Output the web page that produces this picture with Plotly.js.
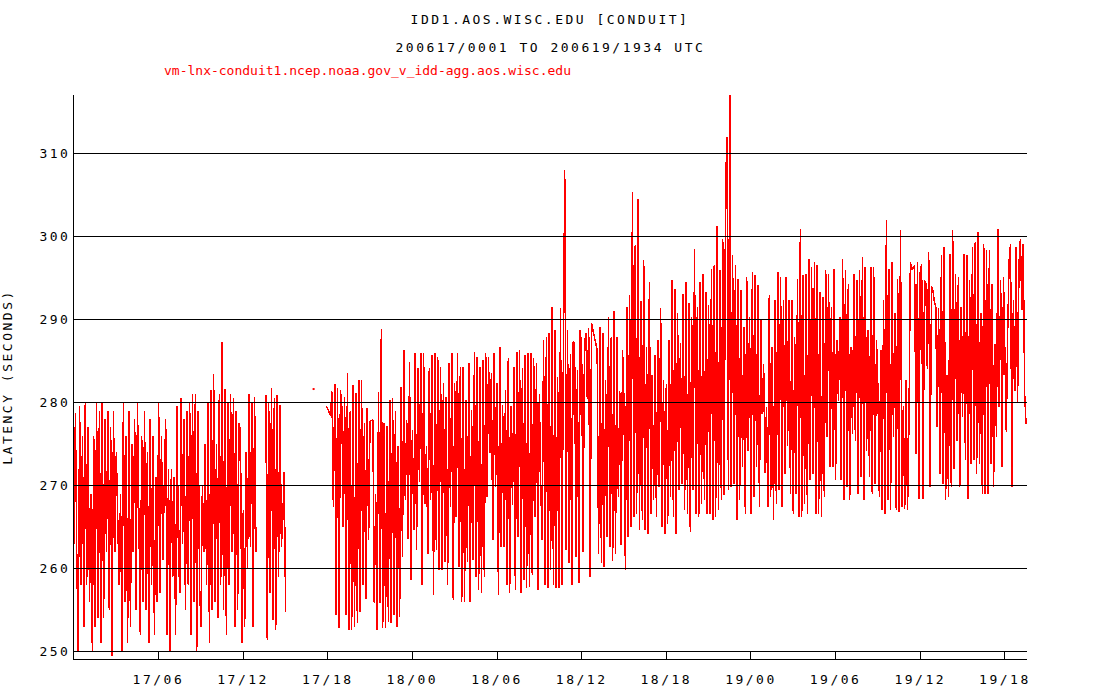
<!DOCTYPE html>
<html>
<head>
<meta charset="utf-8">
<script src="https://cdn.plot.ly/plotly-3.0.1.min.js"></script>
<style>
html, body { margin: 0; padding: 0; background: #fff; }
#chart { width: 1100px; height: 700px; }
.gtitle, .xtick text, .ytick text, .ytitle, g.annotation[data-index="0"] text { letter-spacing: 2.5px; }
.scatterlayer path.js-line { shape-rendering: crispEdges; }
.layer-above path, .xlines-above, .ylines-above { shape-rendering: crispEdges; }
</style>
</head>
<body>
<div id="chart"></div>
<script>
// ---- data ----
const titleLine1 = 'IDD1.AOS.WISC.EDU [CONDUIT]';
const titleLine2 = '200617/0001 TO 200619/1934 UTC';
const feedLabel = 'vm-lnx-conduit1.ncep.noaa.gov_v_idd-agg.aos.wisc.edu';
const yAxisTitle = 'LATENCY (SECONDS)';

const sampleStepMinutes = 6;
const seg1Start = '2006-06-17T00:01:00';
const seg2Start = '2006-06-17T17:54:00';
const axisStart = '2006-06-17 00:01';
const axisEnd = '2006-06-19 19:34';

// latency samples, first block (17/0001 - 17/1501)
const seg1Latency = [
  263, 278.7, 261, 250, 279.5, 258, 276, 253, 280, 258,
  277, 256, 269, 250, 276, 253, 280, 254, 279, 251,
  280, 254, 278, 262, 279, 255, 277, 249.5, 279, 262,
  274, 265, 258, 269, 250, 280, 256, 276, 251, 279,
  253, 275, 262, 278, 255, 280, 266, 252, 276, 256,
  279, 255, 274, 251, 278, 258, 276, 252, 271, 256,
  280, 257, 276, 261, 270, 278, 252, 272, 250, 272,
  259, 271, 252, 279.5, 262, 257, 280.5, 263, 278, 255,
  279, 258, 280, 252, 281, 256, 281, 250, 279, 258,
  253, 270, 262, 275, 258, 280, 251, 281.5, 255, 283.4,
  256, 275, 254, 281, 258, 287.3, 255, 281.6, 252, 280,
  258, 281, 262, 280.5, 253, 279, 255, 277.5, 276.5, 251,
  267, 253, 274, 260, 281, 262.6, 280, 253, 280.7, 262,
  null, null, null, null, null, null, 280.9, 251.4, 280, 257,
  281.7, 253.8, 280.5, 252.6, 280.9, 259, 279.7, 262.6, 266, 271.6,
  254.8
];

// isolated sample inside the gap
const loneTime = ['2006-06-17 17:00'];
const loneLatency = [281.6];

// latency samples, second block (17/1754 - 19/1930)
const seg2Latency = [
  279.6,
  279.2, 278.8, 278.4, 281.3, 267.4, 282.2, 254.4, 281.7, 252.8, 281.5,
  279.5, 265, 280.7, 254.4, 283.5, 252.6, 278.9, 252.6, 282.1, 253,
  281.1, 253.4, 282.7, 254.8, 282.7, 258, 277.5, 256.3, 279.3, 263.4,
  277.7, 277.8, 277.9, 255.8, 269, 252.6, 281.3, 255.8, 288.8, 252.8,
  277.5, 252.8, 277.2, 253.6, 280.3, 253.4, 280.5, 254.4, 278.9, 253,
  274.7, 254.2, 281.9, 261.4, 286.3, 268.2, 277.9, 263.6, 284.9, 258.6,
  276.7, 264.6, 285.9, 262.2, 284.1, 270.4, 285.9, 258, 285.9, 267.8,
  274.8, 261.8, 284.1, 268.2, 285.7, 256.8, 285.9, 262.2, 285.5, 259.8,
  284.3, 259.8, 282.3, 260.8, 280.7, 258, 284.7, 267.4, 285.9, 256.2,
  282.3, 266.2, 285.9, 260.2, 284.3, 256, 284.3, 256, 280.3, 260.8,
  284.7, 256, 279.1, 261, 286.1, 259, 285.5, 257.4, 284.3, 257,
  285.1, 259, 285.9, 268.6, 285.5, 273.9, 283.5, 263.4, 285.9, 269.8,
  282.3, 256.8, 286.7, 262.6, 279.7, 262.6, 281.5, 258, 285.3, 257,
  279.5, 267.6, 284.3, 257.4, 286.1, 263.8, 286.3, 257, 284.1, 258.6,
  285.7, 257.6, 285.9, 257.8, 285.9, 259.2, 285.3, 266.2, 284.7, 257.4,
  281, 270, 263.4, 287.5, 258, 287.9, 257.6, 288.3, 259.8, 291.5,
  258, 288.7, 257.6, 283.1, 257.6, 291.3, 258, 284.3, 308, 262.2,
  288.7, 260.6, 285.8, 258, 287.3, 287.1, 261.4, 283.9, 258.2, 288.7,
  286.3, 262, 287.1, 288.3, 280.4, 288.9, 259, 289.5, 288.7, 287.9,
  287, 286.3, 261.8, 289.1, 260.6, 288.3, 260.2, 282.7, 263.8, 290.3,
  262.6, 287.9, 260.9, 291, 261.8, 287.9, 268.6, 281.4, 262.8, 286.3,
  280.2, 259.8, 291.5, 263.8, 292.9, 265, 305.3, 266.2, 299, 266.6,
  304.5, 264.6, 292.2, 265.8, 297.1, 264.6, 286.7, 264.2, 294.5, 266.6,
  283.3, 268.2, 285.7, 266.2, 287.5, 269.8, 291.3, 265, 282.7, 264.2,
  282.2, 265.4, 287.5, 268.6, 294.7, 266.2, 293.7, 264.2, 290.7, 269.4,
  287.1, 270.2, 293.1, 267, 294.5, 266.6, 291.9, 264.4, 290.3, 269.4,
  298.4, 266.6, 291.5, 266.2, 294.5, 267.8, 295.5, 268.2, 293.3, 266.6,
  291.7, 266.6, 296.1, 265.8, 296.5, 266.2, 301.2, 267, 295.9, 268.2,
  299.7, 268.8, 306, 312, 269.4, 317.5, 269.8, 297.7, 270.2, 296.5,
  265.8, 294.9, 268.2, 293.5, 272.2, 289.1, 266.6, 295.1, 274.2, 290.3,
  266.6, 295.7, 268.6, 295.3, 272.2, 294.1, 267.4, 289.9, 278.6, 284.6,
  271.5, 279.4, 267.4, 292.9, 268.6, 286.7, 265.8, 292.3, 267.8, 295.7,
  269.4, 295.1, 267.4, 292.3, 271.4, 295.1, 274.8, 292.3, 269, 292.3,
  266.6, 287.9, 269, 294.9, 266.2, 300.9, 266.2, 295.3, 267.8, 295.5,
  266.6, 297.3, 270.6, 296.3, 271.4, 296.9, 266.6, 296.5, 266.6, 293.3,
  266.2, 292.7, 268.6, 295.9, 275.8, 295.5, 272.2, 291.5, 272.2, 296.1,
  270.6, 287.5, 280.2, 290.3, 270.6, 297.3, 268.2, 295.9, 269.8, 294.3,
  268.2, 286.7, 276.2, 295.5, 275.4, 294.7, 269, 295.9, 271, 297.5,
  268.2, 296.3, 274.2, 288.7, 271, 296.3, 269, 296.3, 270.2, 287.5,
  281.8, 268.6, 286.3, 267, 292.3, 266.6, 301.9, 268.2, 296.1, 267,
  296.9, 275.8, 290.7, 267, 294.9, 266.8, 300.7, 267.4, 279.5, 267.2,
  282.7, 267, 277.5, 296.9, 295.9, 296.3, 296.5, 273.8, 296.9, 268.4,
  295.7, 296.7, 268.4, 294.7, 294.3, 284, 298.1, 269.8, 294, 293.5,
  292.1, 291.5, 277, 291.4, 271.4, 297.7, 270.2, 298.7, 268.2, 283.3,
  268.6, 297.9, 269.8, 300.8, 272, 295.5, 275.4, 295.1, 269.8, 291.5,
  278.2, 297.9, 273, 297.7, 268.4, 294.7, 272.6, 298.7, 273, 299.3,
  271.4, 300.5, 272.6, 290.7, 269, 299.1, 269, 298.3, 269, 298.3,
  272.6, 294.3, 269.8, 287, 275.8, 300.9, 279.4, 294.7, 272.2, 295.1,
  285, 276.4, 288.7, 297, 299.1, 269.8, 292.3, 281.4, 298.7, 279.9,
  296.7, 299.7, 291.1, 299.1, 281, 277.4
];

const xTickTimes = ['2006-06-17 06:00', '2006-06-17 12:00', '2006-06-17 18:00',
  '2006-06-18 00:00', '2006-06-18 06:00', '2006-06-18 12:00', '2006-06-18 18:00',
  '2006-06-19 00:00', '2006-06-19 06:00', '2006-06-19 12:00', '2006-06-19 18:00'];
const xTickLabels = ['17/06', '17/12', '17/18', '18/00', '18/06', '18/12', '18/18',
  '19/00', '19/06', '19/12', '19/18'];
const yTickVals = [250, 260, 270, 280, 290, 300, 310];
const yRange = [249.1, 317.0];

// ---- build sample times from the fixed sampling cadence ----
function sampleTimes(start, n, stepMin) {
  const t0 = Date.parse(start + 'Z');
  const out = [];
  for (let i = 0; i < n; i++) {
    out.push(new Date(t0 + i * stepMin * 60000).toISOString().replace('T', ' ').slice(0, 19));
  }
  return out;
}
const seg1Times = sampleTimes(seg1Start, seg1Latency.length, sampleStepMinutes);
const seg2Times = sampleTimes(seg2Start, seg2Latency.length, sampleStepMinutes);

const RED = '#ff0000';
const traces = [
  { x: seg1Times, y: seg1Latency, type: 'scatter', mode: 'lines', connectgaps: false,
    line: { color: RED, width: 1.5 }, hoverinfo: 'x+y' },
  { x: loneTime, y: loneLatency, type: 'scatter', mode: 'markers',
    marker: { color: RED, size: 2, symbol: 'square' }, hoverinfo: 'x+y' },
  { x: seg2Times, y: seg2Latency, type: 'scatter', mode: 'lines',
    line: { color: RED, width: 1.5 }, hoverinfo: 'x+y' }
];

const monoFont = 'DejaVu Sans Mono, Liberation Mono, monospace';
const plotTop = 95, plotBottom = 659, plotH = plotBottom - plotTop;
const gridShapes = yTickVals.map(v => ({
  type: 'line', xref: 'paper', yref: 'y', x0: 0, x1: 1, y0: v, y1: v,
  line: { color: '#000', width: 1 }, layer: 'above'
}));

const layout = {
  width: 1100, height: 700,
  margin: { l: 74, r: 73, t: plotTop, b: 700 - plotBottom, pad: 0 },
  paper_bgcolor: '#ffffff', plot_bgcolor: '#ffffff',
  showlegend: false,
  font: { family: monoFont, size: 13, color: '#000' },
  title: {
    text: titleLine1, x: 0.5, xanchor: 'center', xref: 'container',
    y: 1 - 19 / 700, yanchor: 'middle', yref: 'container',
    font: { family: monoFont, size: 13, color: '#000' }
  },
  xaxis: {
    type: 'date', range: [axisStart, axisEnd],
    tickmode: 'array', tickvals: xTickTimes, ticktext: xTickLabels,
    ticks: 'inside', ticklen: 7, tickwidth: 1, tickcolor: '#000',
    ticklabelstandoff: 8,
    showgrid: false, zeroline: false,
    showline: true, linecolor: '#000', linewidth: 1, mirror: false,
    layer: 'above traces',
    tickfont: { family: monoFont, size: 13, color: '#000' }
  },
  yaxis: {
    range: yRange, tickmode: 'array', tickvals: yTickVals,
    ticks: '', showgrid: false, zeroline: false,
    showline: true, linecolor: '#000', linewidth: 1, mirror: false,
    layer: 'above traces',
    tickfont: { family: monoFont, size: 13, color: '#000' },
    title: { text: yAxisTitle, standoff: 26, font: { family: monoFont, size: 13, color: '#000' } }
  },
  shapes: gridShapes,
  annotations: [
    { text: titleLine2, xref: 'paper', yref: 'paper', x: 0.5, y: (plotBottom - 47) / plotH,
      xanchor: 'center', yanchor: 'middle', showarrow: false,
      font: { family: monoFont, size: 13, color: '#000' } },
    { text: feedLabel, xref: 'paper', yref: 'paper', x: (162 - 74) / 953, y: (plotBottom - 71) / plotH,
      xanchor: 'left', yanchor: 'middle', showarrow: false,
      font: { family: monoFont, size: 13, color: RED } }
  ]
};

Plotly.newPlot('chart', traces, layout, { staticPlot: true, displayModeBar: false });
</script>
</body>
</html>
